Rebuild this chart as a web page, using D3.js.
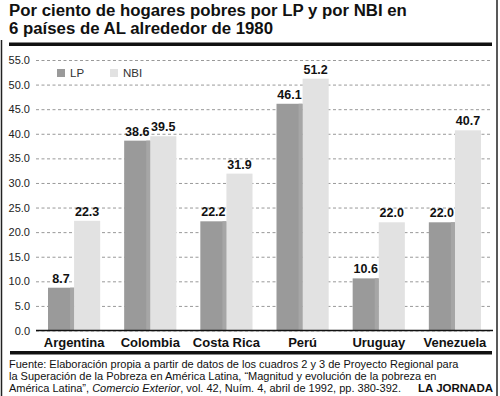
<!DOCTYPE html>
<html>
<head>
<meta charset="utf-8">
<script src="https://cdn.jsdelivr.net/npm/d3@7"></script>
<style>
  body { margin: 0; background: #fff; }
  svg { display: block; font-family: "Liberation Sans", Arial, sans-serif; }
</style>
</head>
<body>
<div class="canvas"></div>
<script>
// data
const countries = ['Argentina', 'Colombia', 'Costa Rica', 'Perú', 'Uruguay', 'Venezuela'];
const lp = [8.7, 38.6, 22.2, 46.1, 10.6, 22.0];
const nbi = [22.3, 39.5, 31.9, 51.2, 22.0, 40.7];
const series = ['LP', 'NBI'];
const yTicks = [0, 5, 10, 15, 20, 25, 30, 35, 40, 45, 50, 55];

const W = 500, H = 396;
const colors = {LP: '#9a9a9a', NBI: '#e2e2e2'};

const svg = d3.select('.canvas')
    .append('svg')
        .attr('width', W)
        .attr('height', H);

// frame lines
svg.append('line').attr('x1', 1.5).attr('x2', 1.5).attr('y1', 40).attr('y2', H)
    .attr('stroke', '#222').attr('stroke-width', 1.5);
svg.append('line').attr('x1', 497).attr('x2', 497).attr('y1', 0).attr('y2', H)
    .attr('stroke', '#222').attr('stroke-width', 1.5);

// title
const title = svg.append('text')
    .attr('font-weight', 'bold')
    .attr('font-size', 16.8)
    .attr('fill', '#111');
title.append('tspan').attr('x', 9).attr('y', 15.5).text('Por ciento de hogares pobres por LP y por NBI en');
title.append('tspan').attr('x', 9).attr('y', 34).text('6 países de AL alrededor de 1980');

// thick rules
svg.append('rect').attr('x', 9).attr('y', 42.5).attr('width', 483).attr('height', 3.5).attr('fill', '#111');
svg.append('rect').attr('x', 10).attr('y', 351).attr('width', 482).attr('height', 3.5).attr('fill', '#111');

// scales
const x0 = d3.scaleBand()
    .domain(countries)
    .range([36, 493])
    .paddingInner(0.315)
    .paddingOuter(0.1575);

const x1 = d3.scaleBand()
    .domain(series)
    .range([0, x0.bandwidth()]);

const y = d3.scaleLinear()
    .domain([0, 55])
    .range([330.5, 60]);

// grid + y labels
const yAxis = d3.axisLeft(y)
    .tickValues(yTicks)
    .tickSize(-(490 - 36))
    .tickFormat(d3.format('.1f'));

const yGroup = svg.append('g')
    .attr('transform', 'translate(36,0)')
    .call(yAxis);
yGroup.select('.domain').remove();
yGroup.selectAll('.tick line')
    .attr('stroke', '#999')
    .attr('stroke-dasharray', '3,2.5');
yGroup.selectAll('.tick text')
    .attr('x', -6)
    .attr('font-size', 11)
    .attr('fill', '#222')
    .attr('font-family', '"Liberation Sans", Arial, sans-serif');

// bars
const rows = countries.map((c, i) => ({country: c, LP: lp[i], NBI: nbi[i]}));

const groups = svg.selectAll('g.grp')
    .data(rows)
    .enter()
    .append('g')
        .attr('class', 'grp')
        .attr('transform', d => `translate(${x0(d.country)},0)`);

groups.selectAll('rect.bar')
    .data(d => series.map(s => ({key: s, value: d[s]})))
    .enter()
    .append('rect')
        .attr('class', 'bar')
        .attr('x', d => x1(d.key))
        .attr('y', d => y(d.value))
        .attr('width', x1.bandwidth())
        .attr('height', d => y(0) - y(d.value))
        .attr('fill', d => colors[d.key]);

// slight light edge on LP bars
groups.append('rect')
    .attr('x', d => x1('LP') + x1.bandwidth() - 4)
    .attr('y', d => y(d.LP))
    .attr('width', 4)
    .attr('height', d => y(0) - y(d.LP))
    .attr('fill', '#a6a6a6');

// value labels
groups.selectAll('text.val')
    .data(d => series.map(s => ({key: s, value: d[s]})))
    .enter()
    .append('text')
        .attr('class', 'val')
        .attr('x', d => x1(d.key) + x1.bandwidth() / 2)
        .attr('y', d => y(d.value) - 5)
        .attr('text-anchor', 'middle')
        .attr('font-weight', 'bold')
        .attr('font-size', 12.5)
        .attr('fill', '#111')
        .text(d => d.value.toFixed(1));

// x axis
const xAxis = d3.axisBottom(x0).tickSize(0).tickPadding(7);
const xGroup = svg.append('g')
    .attr('transform', `translate(0,${y(0)})`)
    .call(xAxis);
xGroup.select('.domain')
    .attr('d', 'M36,0H493')
    .attr('stroke', '#111')
    .attr('stroke-width', 1.5);
xGroup.selectAll('.tick text')
    .attr('font-weight', 'bold')
    .attr('font-size', 13)
    .attr('fill', '#111')
    .attr('font-family', '"Liberation Sans", Arial, sans-serif');

// legend
const legend = svg.selectAll('g.leg')
    .data(series)
    .enter()
    .append('g')
        .attr('class', 'leg')
        .attr('transform', (d, i) => `translate(${57 + i * 53},69)`);
legend.append('rect')
    .attr('width', 8).attr('height', 8)
    .attr('fill', d => colors[d]);
legend.append('text')
    .attr('x', 13).attr('y', 8)
    .attr('font-size', 11.5)
    .attr('fill', '#333')
    .text(d => d);

// footer
const foot = svg.append('text')
    .attr('font-size', 11)
    .attr('fill', '#111');
foot.append('tspan').attr('x', 9).attr('y', 368)
    .text('Fuente: Elaboración propia  a partir de datos de los cuadros 2 y 3 de Proyecto Regional para');
foot.append('tspan').attr('x', 9).attr('y', 380)
    .text('la Superación de la Pobreza en América Latina, “Magnitud y evolución de la pobreza en');
const l3 = foot.append('tspan').attr('x', 9).attr('y', 392);
l3.append('tspan').text('América Latina”, ');
l3.append('tspan').attr('font-style', 'italic').text('Comercio Exterior');
l3.append('tspan').text(', vol. 42, Nuím. 4, abril de 1992, pp. 380-392.');

svg.append('text')
    .attr('x', 493).attr('y', 392)
    .attr('text-anchor', 'end')
    .attr('font-weight', 'bold')
    .attr('font-size', 11.5)
    .attr('fill', '#111')
    .text('LA JORNADA');
</script>
</body>
</html>
